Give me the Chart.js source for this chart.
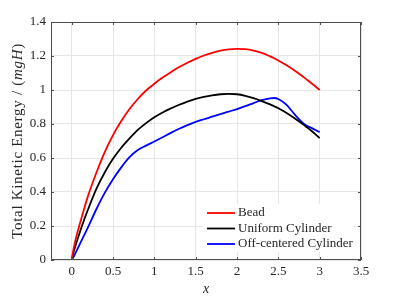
<!DOCTYPE html>
<html>
<head>
<meta charset="utf-8">
<script src="https://cdn.jsdelivr.net/npm/chart.js@4.4.1/dist/chart.umd.min.js"></script>
<style>
  html, body { margin: 0; padding: 0; background: #fff; }
  #wrap { width: 399px; height: 299px; position: relative; }
</style>
</head>
<body>
<div id="wrap"><canvas id="energyChart"></canvas></div>
<script>
// valeurs
const xValues = [0, 0.025, 0.05, 0.1, 0.15, 0.2, 0.3, 0.4, 0.5, 0.6, 0.7, 0.8, 0.9, 1.0, 1.1, 1.2, 1.3, 1.4, 1.5,
  1.6, 1.7, 1.8, 1.9, 2.0, 2.1, 2.2, 2.3, 2.4, 2.45, 2.5, 2.6, 2.7, 2.8, 2.85, 2.9, 3.0];
const beadEnergy = [0, 0.07, 0.125, 0.215, 0.3, 0.38, 0.515, 0.635, 0.735, 0.818, 0.888, 0.947, 0.997, 1.037, 1.073, 1.105,
  1.135, 1.16, 1.183, 1.203, 1.219, 1.231, 1.239, 1.242, 1.240, 1.232, 1.218, 1.198, 1.187, 1.174, 1.145, 1.113, 1.078, 1.059, 1.04, 1.0];
const uniformEnergy = [0, 0.05, 0.09, 0.165, 0.235, 0.3, 0.42, 0.515, 0.595, 0.66, 0.715, 0.765, 0.805, 0.84, 0.868, 0.892,
  0.913, 0.932, 0.948, 0.96, 0.969, 0.975, 0.977, 0.975, 0.966, 0.952, 0.935, 0.915, 0.904, 0.893, 0.865, 0.833, 0.798, 0.779, 0.76, 0.717];
const offCenterEnergy = [0, 0.02, 0.045, 0.095, 0.145, 0.195, 0.3, 0.395, 0.475, 0.545, 0.605, 0.647, 0.673, 0.697, 0.722, 0.748,
  0.772, 0.793, 0.812, 0.828, 0.843, 0.858, 0.873, 0.888, 0.905, 0.923, 0.94, 0.951, 0.953, 0.947, 0.912, 0.855, 0.805, 0.788, 0.777, 0.752];
const xTicks = [0, 0.5, 1, 1.5, 2, 2.5, 3, 3.5];
const yTicks = [0, 0.2, 0.4, 0.6, 0.8, 1, 1.2, 1.4];
const seriesNames = ['Bead', 'Uniform Cylinder', 'Off-centered Cylinder'];
const seriesColors = ['#ff0000', '#000000', '#0000ff'];

const FONT = "'Liberation Serif', serif";
const TEXT_COLOR = '#262626';
const AXIS_COLOR = '#4d4d4d';

function toPoints(ys) {
    return xValues.map((x, i) => ({ x: x, y: ys[i] }));
}

// cadre + graduations vers l'intérieur (style MATLAB)
const boxPlugin = {
    id: 'boxPlugin',
    afterDatasetsDraw(chart) {
        const { ctx, chartArea: a, scales } = chart;
        ctx.save();
        ctx.strokeStyle = AXIS_COLOR;
        ctx.lineWidth = 1;
        ctx.strokeRect(a.left + 0.5, a.top + 0.5, a.right - a.left - 1, a.bottom - a.top - 1);
        ctx.beginPath();
        xTicks.forEach(v => {
            const px = Math.round(scales.x.getPixelForValue(v)) + 0.5;
            ctx.moveTo(px, a.bottom); ctx.lineTo(px, a.bottom - 3);
            ctx.moveTo(px, a.top); ctx.lineTo(px, a.top + 3);
        });
        yTicks.forEach(v => {
            const py = Math.round(scales.y.getPixelForValue(v)) + 0.5;
            ctx.moveTo(a.left, py); ctx.lineTo(a.left + 3, py);
            ctx.moveTo(a.right, py); ctx.lineTo(a.right - 3, py);
        });
        ctx.stroke();
        ctx.restore();
    }
};

// légende dans la zone du graphique, en bas à droite
const legendPlugin = {
    id: 'insideLegend',
    afterDraw(chart) {
        const { ctx, chartArea: a } = chart;
        const boxLeft = a.left + 152, boxTop = a.bottom - 56, boxW = 151, boxH = 48;
        ctx.save();
        ctx.fillStyle = '#ffffff';
        ctx.fillRect(boxLeft, boxTop, boxW, boxH);
        ctx.font = '13px ' + FONT;
        ctx.textBaseline = 'middle';
        chart.data.datasets.forEach((ds, i) => {
            const y = boxTop + 9 + i * 15.5;
            ctx.strokeStyle = ds.borderColor;
            ctx.lineWidth = 1.8;
            ctx.beginPath();
            ctx.moveTo(boxLeft + 4, y);
            ctx.lineTo(boxLeft + 32, y);
            ctx.stroke();
            ctx.fillStyle = TEXT_COLOR;
            ctx.fillText(ds.label, boxLeft + 35, y);
        });
        ctx.restore();
    }
};

// titre de l'axe y avec mgH en italique
const yTitlePlugin = {
    id: 'yTitle',
    afterDraw(chart) {
        const { ctx, chartArea: a } = chart;
        const parts = [
            { t: 'Total Kinetic Energy / (', f: '15px ' + FONT },
            { t: 'mgH', f: 'italic 15px ' + FONT },
            { t: ')', f: '15px ' + FONT }
        ];
        ctx.save();
        ctx.letterSpacing = '0.7px';
        let total = 0;
        parts.forEach(p => { ctx.font = p.f; p.w = ctx.measureText(p.t).width; total += p.w; });
        ctx.translate(18, (a.top + a.bottom) / 2);
        ctx.rotate(-Math.PI / 2);
        ctx.fillStyle = TEXT_COLOR;
        ctx.textBaseline = 'middle';
        let x = -total / 2;
        parts.forEach(p => { ctx.font = p.f; ctx.fillText(p.t, x, 0); x += p.w; });
        ctx.restore();
    }
};

function initEnergyChart() {
    const ctx = document.getElementById('energyChart');
    if (!ctx) return;

    const series = [beadEnergy, uniformEnergy, offCenterEnergy];

    new Chart(ctx, {
        type: 'line',
        data: {
            datasets: series.map((ys, i) => ({
                label: seriesNames[i],
                data: toPoints(ys),
                borderColor: seriesColors[i],
                backgroundColor: seriesColors[i],
                borderWidth: 1.8,
                pointRadius: 0,
                fill: false,
                cubicInterpolationMode: 'monotone'
            }))
        },
        options: {
            responsive: true,
            maintainAspectRatio: false,
            animation: false,
            layout: { padding: { top: 22, right: 38, left: 0, bottom: 0 } },
            plugins: {
                legend: { display: false },
                tooltip: { enabled: false }
            },
            scales: {
                x: {
                    type: 'linear',
                    min: -0.25,
                    max: 3.5,
                    afterBuildTicks: (scale) => { scale.ticks = xTicks.map(v => ({ value: v })); },
                    afterFit: (scale) => { scale.height = 39; },
                    grid: { color: '#e6e6e6', drawTicks: false },
                    border: { display: false },
                    ticks: {
                        padding: 4,
                        color: TEXT_COLOR,
                        font: { family: FONT, size: 13 },
                        callback: (v) => String(v)
                    },
                    title: {
                        display: true,
                        text: 'x',
                        color: TEXT_COLOR,
                        font: { family: FONT, size: 14, style: 'italic' },
                        padding: { top: 0, bottom: 1 }
                    }
                },
                y: {
                    min: 0,
                    max: 1.4,
                    afterBuildTicks: (scale) => { scale.ticks = yTicks.map(v => ({ value: v })); },
                    afterFit: (scale) => { scale.width = 51; },
                    grid: { color: '#e6e6e6', drawTicks: false },
                    border: { display: false },
                    ticks: {
                        padding: 5,
                        color: TEXT_COLOR,
                        font: { family: FONT, size: 13 },
                        callback: (v) => String(v)
                    }
                }
            }
        },
        plugins: [boxPlugin, legendPlugin, yTitlePlugin]
    });
}

if (document.readyState === 'complete') {
    initEnergyChart();
} else {
    window.addEventListener('load', initEnergyChart);
}
</script>
</body>
</html>
